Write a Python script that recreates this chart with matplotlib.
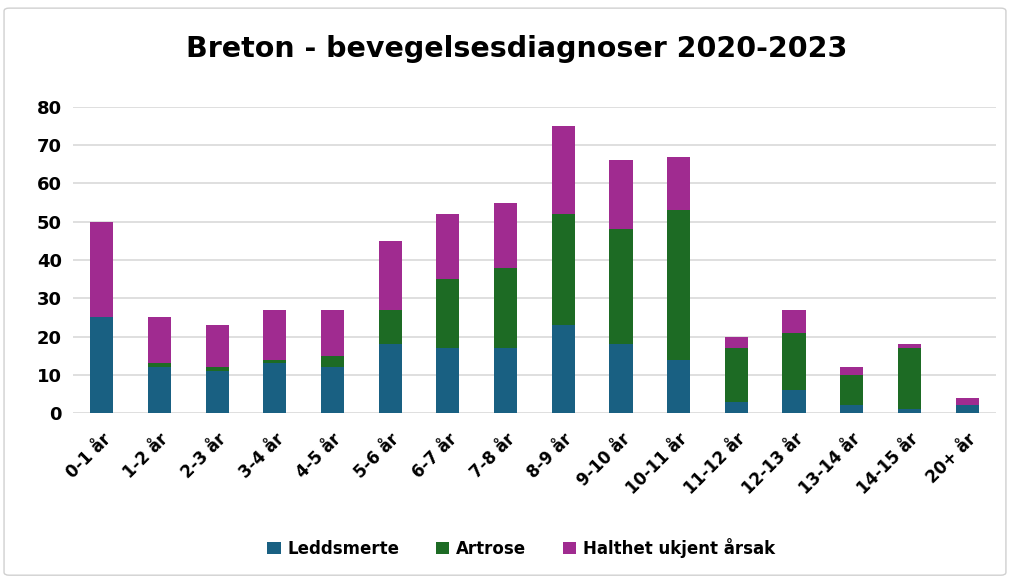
import matplotlib.pyplot as plt
import numpy as np
from matplotlib.patches import FancyBboxPatch

# values
categories = ['0-1 år', '1-2 år', '2-3 år', '3-4 år', '4-5 år', '5-6 år', '6-7 år',
              '7-8 år', '8-9 år', '9-10 år', '10-11 år', '11-12 år', '12-13 år',
              '13-14 år', '14-15 år', '20+ år']
leddsmerte = [25, 12, 11, 13, 12, 18, 17, 17, 23, 18, 14, 3, 6, 2, 1, 2]
artrose = [0, 1, 1, 1, 3, 9, 18, 21, 29, 30, 39, 14, 15, 8, 16, 0]
halthet = [25, 12, 11, 13, 12, 18, 17, 17, 23, 18, 14, 3, 6, 2, 1, 2]
yticks = [0, 10, 20, 30, 40, 50, 60, 70, 80]

c_blue = '#196082'
c_green = '#1d6b24'
c_magenta = '#a02b90'

fig = plt.figure(figsize=(10.12, 5.81), dpi=100)
ax = fig.add_axes([0.0721, 0.289, 0.912, 0.527])

x = np.arange(len(categories))
w = 0.40
led = np.array(leddsmerte)
art = np.array(artrose)
hal = np.array(halthet)
ax.bar(x, led, w, color=c_blue, label='Leddsmerte', zorder=3)
ax.bar(x, art, w, bottom=led, color=c_green, label='Artrose', zorder=3)
ax.bar(x, hal, w, bottom=led + art, color=c_magenta, label='Halthet ukjent årsak', zorder=3)

ax.set_xlim(-0.5, len(categories) - 0.5)
ax.set_ylim(0, 80)
ax.set_yticks(yticks)
ax.set_yticklabels([str(v) for v in yticks], fontsize=13, fontweight='bold')
ax.set_xticks(x)
ax.set_xticklabels(categories, rotation=45, ha='right', rotation_mode='anchor',
                   fontsize=12, fontweight='bold')
ax.tick_params(length=0, pad=8)
ax.tick_params(axis='x', pad=12)
for s in ax.spines.values():
    s.set_visible(False)
ax.grid(axis='y', color='#d9d9d9', linewidth=1.2, zorder=0)
ax.set_axisbelow(True)

fig.text(0.511, 0.915, 'Breton - bevegelsesdiagnoser 2020-2023', ha='center', va='center',
         fontsize=20.5, fontweight='bold')

leg = fig.legend(loc='center', bbox_to_anchor=(0.515, 0.057), ncol=3, frameon=False,
                 prop={'size': 12, 'weight': 'bold'}, handlelength=0.8, handleheight=0.8,
                 columnspacing=2.2, handletextpad=0.4)

# light frame round the chart
frame = FancyBboxPatch((0.004, 0.01), 0.99, 0.976, boxstyle='round,pad=0,rounding_size=0.005',
                       transform=fig.transFigure, fill=False, edgecolor='#d0d0d0', linewidth=1)
fig.patches.append(frame)

fig.savefig('out.png', dpi=100)
